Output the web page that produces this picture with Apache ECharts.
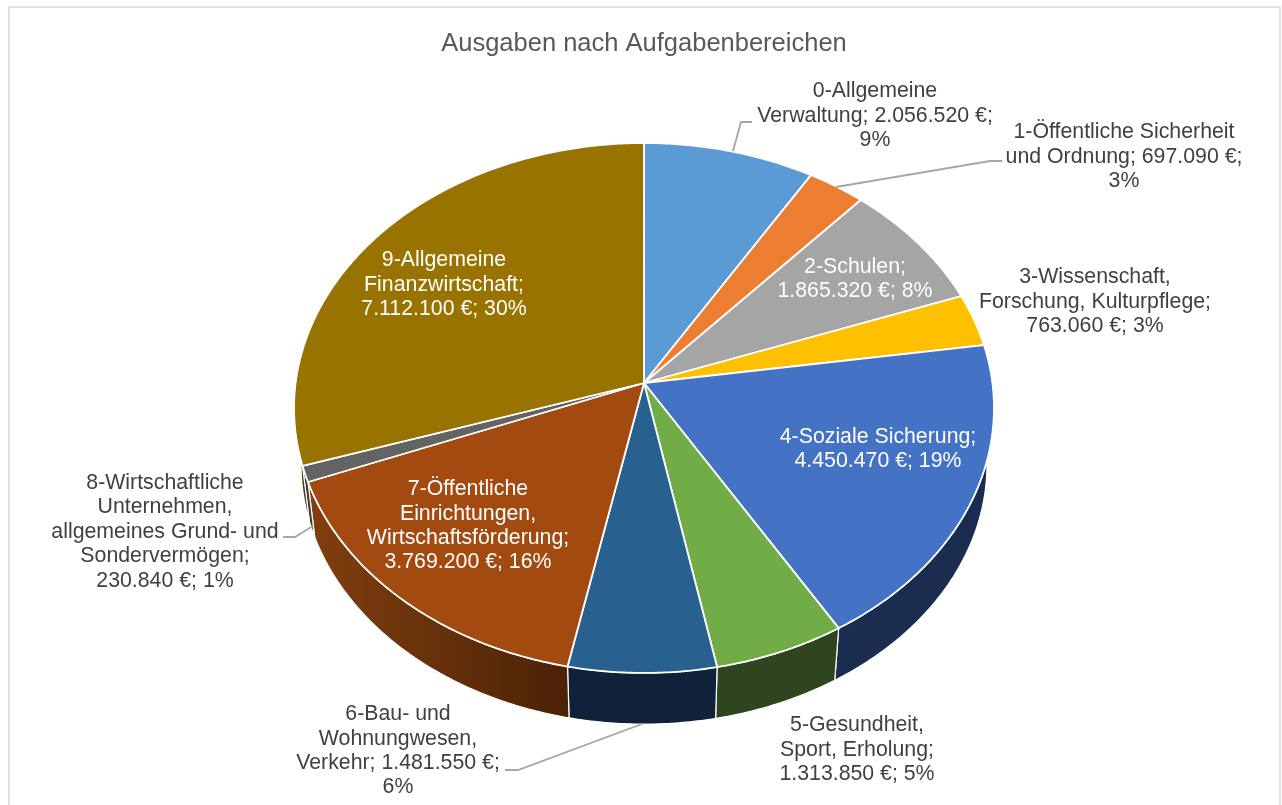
<!DOCTYPE html>
<html lang="de">
<head>
<meta charset="utf-8">
<title>Ausgaben nach Aufgabenbereichen</title>
<script src="https://cdn.jsdelivr.net/npm/echarts@6/dist/echarts.min.js"></script>
<style>
  html, body { margin: 0; padding: 0; background: #fff; }
  #chart { width: 1282px; height: 805px; }
</style>
</head>
<body>
<div id="chart"></div>
<script>
// --- data ---
const chartTitle = 'Ausgaben nach Aufgabenbereichen';
const categories = [
  '0-Allgemeine\nVerwaltung',
  '1-Öffentliche Sicherheit\nund Ordnung',
  '2-Schulen',
  '3-Wissenschaft,\nForschung, Kulturpflege',
  '4-Soziale Sicherung',
  '5-Gesundheit,\nSport, Erholung',
  '6-Bau- und\nWohnungwesen,\nVerkehr',
  '7-Öffentliche\nEinrichtungen,\nWirtschaftsförderung',
  '8-Wirtschaftliche\nUnternehmen,\nallgemeines Grund- und\nSondervermögen',
  '9-Allgemeine\nFinanzwirtschaft'
];
const values = [2056520, 697090, 1865320, 763060, 4450470, 1313850, 1481550, 3769200, 230840, 7112100];
const percents = [9, 3, 8, 3, 19, 5, 6, 16, 1, 30];

// --- styles and layout, one entry per slice ---
const topColors = ['#5B9BD5', '#ED7D31', '#A5A5A5', '#FFC000', '#4472C4', '#70AD47', '#28608F', '#A34A11', '#636363', '#997300'];
const wallLeft = ['#2d4f6e', '#7a3f18', '#555555', '#806000', '#1A2C50', '#2E451F', '#0F2239', '#823F0F', '#3c3c3c', '#4d3a00'];
const wallRight = ['#2d4f6e', '#7a3f18', '#555555', '#806000', '#1A2C50', '#2E451F', '#0F2239', '#4A2206', '#3c3c3c', '#4d3a00'];
const labelCenters = [[875, 116], [1124, 157], [855, 279], [1095, 302], [878, 449], [857, 750], [398, 751], [468, 526], [165, 532], [444, 285]];
const labelBreaks = [[' ', '\n'], [' ', '\n'], ['\n', ' '], ['\n', ' '], ['\n', ' '], ['\n', ' '], [' ', '\n'], ['\n', ' '], ['\n', ' '], ['\n', ' ']];
const labelColors = ['#404040', '#404040', '#ffffff', '#404040', '#ffffff', '#404040', '#404040', '#ffffff', '#404040', '#ffffff'];
const leaderLines = [
  [[733, 151], [741, 122], [752, 122]],
  [[836, 187], [990, 161], [1002, 161]],
  [[642, 724], [518, 770], [505, 770]],
  [[313, 526], [295, 537], [283, 537]]
];

// projection of the tilted disc: the centre of the pie is not the centre of the ellipse
const cx = 644, cy = 383;
const rx = 348.4, ry = 262.6, persp = 0.0943;
const wallScale = 0.98, wallDrop = 57;

const total = values.reduce((a, b) => a + b, 0);
const startAngles = [];
values.reduce((sum, v, i) => { startAngles[i] = sum / total * Math.PI * 2; return sum + v; }, 0);

const project = (angle, scale, drop) => {
  const u = Math.sin(angle), v = Math.cos(angle), w = 1 + persp * v;
  return [cx + scale * rx * u / w, cy + drop - scale * ry * v / w];
};

const arcPoints = (from, to, scale, drop) => {
  const steps = Math.max(2, Math.ceil((to - from) / 0.01));
  const pts = [];
  for (let i = 0; i <= steps; i++) pts.push(project(from + (to - from) * i / steps, scale, drop));
  return pts;
};

const sliceRange = (api) => {
  const i = api.value(0);
  const from = startAngles[i];
  return [i, from, from + api.value(1) / total * Math.PI * 2];
};

const renderWall = (params, api) => {
  const [i, from, to] = sliceRange(api);
  const points = arcPoints(from, to, 1, 0).concat(arcPoints(from, to, wallScale, wallDrop).reverse());
  return {
    type: 'polygon',
    shape: { points },
    style: {
      fill: { type: 'linear', x: 0, y: 0, x2: 1, y2: 0, colorStops: [
        { offset: 0, color: wallLeft[i] }, { offset: 1, color: wallRight[i] }
      ] },
      stroke: '#ffffff',
      lineWidth: 1.2
    }
  };
};

const renderTop = (params, api) => {
  const [i, from, to] = sliceRange(api);
  return {
    type: 'polygon',
    shape: { points: [[cx, cy]].concat(arcPoints(from, to, 1, 0)) },
    style: { fill: topColors[i], stroke: '#ffffff', lineWidth: 1.8, lineJoin: 'round' }
  };
};

const euro = (v) => String(v).replace(/\B(?=(\d{3})+$)/g, '.') + ' €';

const renderLabel = (params, api) => {
  const i = api.value(0);
  const [sepA, sepB] = labelBreaks[i];
  return {
    type: 'text',
    style: {
      text: categories[i] + ';' + sepA + euro(api.value(1)) + ';' + sepB + percents[i] + '%',
      x: labelCenters[i][0],
      y: labelCenters[i][1],
      align: 'center',
      verticalAlign: 'middle',
      fill: labelColors[i],
      fontFamily: 'Liberation Sans',
      fontSize: 21.3,
      lineHeight: 24.4
    }
  };
};

const chartData = values.map((v, i) => [i, v]);
const pieSeries = (renderItem, z) => ({
  type: 'custom',
  coordinateSystem: 'none',
  renderItem,
  data: chartData,
  z,
  silent: true,
  animation: false
});

const chart = echarts.init(document.getElementById('chart'), null, { renderer: 'canvas' });
chart.setOption({
  animation: false,
  backgroundColor: '#ffffff',
  title: {
    text: chartTitle,
    left: 639,
    top: 26,
    textAlign: 'center',
    textStyle: { color: '#595959', fontFamily: 'Liberation Sans', fontSize: 25.5, fontWeight: 'normal' }
  },
  graphic: [
    {
      type: 'rect',
      silent: true,
      z: 0,
      shape: { x: 9, y: 7, width: 1271, height: 900 },
      style: { fill: 'none', stroke: '#d9d9d9', lineWidth: 1.5 }
    }
  ].concat(leaderLines.map((points) => ({
    type: 'polyline',
    silent: true,
    z: 5,
    shape: { points },
    style: { fill: 'none', stroke: '#a6a6a6', lineWidth: 1.8 }
  }))),
  series: [pieSeries(renderWall, 2), pieSeries(renderTop, 3), pieSeries(renderLabel, 6)]
});
</script>
</body>
</html>
